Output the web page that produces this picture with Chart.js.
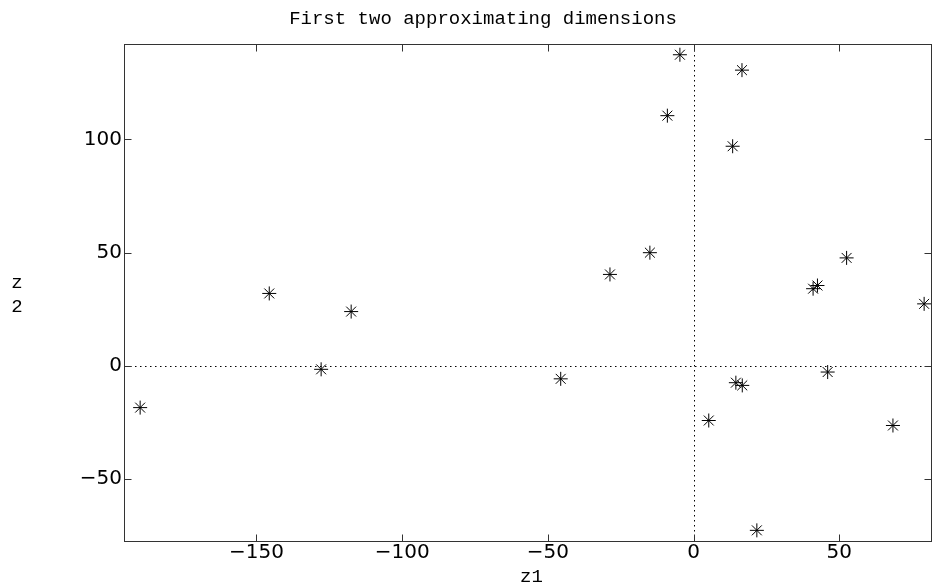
<!DOCTYPE html>
<html>
<head>
<meta charset="utf-8">
<script src="https://cdn.jsdelivr.net/npm/chart.js@4.4.1/dist/chart.umd.min.js"></script>
<style>
  html, body { margin: 0; padding: 0; background: #fff; overflow: hidden; }
  #wrap { width: 933px; height: 588px; }
  #chart { display: block; }
</style>
</head>
<body>
<div id="wrap"><canvas id="chart"></canvas></div>
<script>
// values
const z1 = [-189.9, -145.6, -127.8, -117.5, -45.6, -28.7, -15.0, -9.0, -4.7, 13.4, 16.6,
            5.2, 14.5, 16.7, 21.7, 41.0, 42.5, 46.0, 52.5, 68.4, 79.1];
const z2 = [-18.4, 32.0, -1.5, 24.0, -5.7, 40.4, 50.0, 110.5, 137.4, 97.0, 130.6,
            -24.1, -7.4, -8.6, -72.6, 34.1, 35.5, -2.7, 47.7, -26.3, 27.4];

const xTicks = [-150, -100, -50, 0, 50];
const yTicks = [-50, 0, 50, 100];

const titleText = 'First two approximating dimensions';
const xLabel = 'z1';
const yLabel = ['z', '2'];

const monoFont = '19px "Liberation Mono", "DejaVu Sans Mono", monospace';
const tickFont = { family: 'DejaVu Sans', size: 20 };

// matlab prints a real minus sign
const fmtTick = v => String(v).replace('-', '\u2212');

/* ---------- box, inward ticks, zero lines, labels ---------- */

const matlabAxes = {
  id: 'matlabAxes',
  beforeDatasetsDraw(chart) {
    const { ctx, chartArea: a, scales: { x, y } } = chart;
    const x0 = Math.round(x.getPixelForValue(0)) + 0.5;
    const y0 = Math.round(y.getPixelForValue(0)) + 0.5;
    ctx.save();
    ctx.strokeStyle = '#000';
    ctx.lineWidth = 1;
    ctx.setLineDash([1.5, 3.5]);
    ctx.beginPath();
    ctx.moveTo(a.left, y0);
    ctx.lineTo(a.right, y0);
    ctx.moveTo(x0, a.top);
    ctx.lineTo(x0, a.bottom);
    ctx.stroke();
    ctx.restore();
  },
  afterDatasetsDraw(chart) {
    const { ctx, chartArea: a, scales: { x, y } } = chart;
    const L = Math.round(a.left) - 0.5, R = Math.round(a.right) - 0.5;
    const T = Math.round(a.top) - 0.5, B = Math.round(a.bottom) + 0.5;
    const tl = 7;
    ctx.save();
    ctx.strokeStyle = '#333';
    ctx.lineWidth = 1;
    ctx.strokeRect(L, T, R - L, B - T);
    ctx.beginPath();
    xTicks.forEach(v => {
      const px = Math.round(x.getPixelForValue(v)) + 0.5;
      ctx.moveTo(px, B); ctx.lineTo(px, B - tl);
      ctx.moveTo(px, T); ctx.lineTo(px, T + tl);
    });
    yTicks.forEach(v => {
      const py = Math.round(y.getPixelForValue(v)) + 0.5;
      ctx.moveTo(L, py); ctx.lineTo(L + tl, py);
      ctx.moveTo(R, py); ctx.lineTo(R - tl, py);
    });
    ctx.stroke();
    ctx.restore();
  },
  afterDraw(chart) {
    const { ctx, chartArea: a } = chart;
    ctx.save();
    ctx.fillStyle = '#000';
    ctx.font = monoFont;
    ctx.textAlign = 'center';
    ctx.textBaseline = 'middle';
    ctx.fillText(titleText, 483, 19);
    ctx.fillText(xLabel, (a.left + a.right) / 2 + 3, 577);
    ctx.fillText(yLabel[0], 17, 283);
    ctx.fillText(yLabel[1], 17, 307);
    ctx.restore();
  }
};

/* ---------- chart ---------- */

new Chart(document.getElementById('chart'), {
  type: 'scatter',
  data: {
    datasets: [{
      data: z1.map((v, i) => ({ x: v, y: z2[i] })),
      pointStyle: 'star',
      pointRadius: 7,
      pointHoverRadius: 7,
      borderColor: '#000',
      backgroundColor: '#000',
      borderWidth: 1
    }]
  },
  options: {
    responsive: true,
    maintainAspectRatio: false,
    animation: false,
    layout: { autoPadding: false, padding: { top: 45, right: 1, left: 0, bottom: 0 } },
    plugins: {
      legend: { display: false },
      tooltip: { enabled: false }
    },
    scales: {
      x: {
        type: 'linear',
        min: -195.1,
        max: 81.8,
        grid: { display: false, drawTicks: false },
        border: { display: false },
        ticks: { font: tickFont, color: '#000', padding: 0, callback: fmtTick },
        afterBuildTicks: s => { s.ticks = xTicks.map(v => ({ value: v })); },
        afterFit: s => { s.height = 47; s.paddingLeft = 0; s.paddingRight = 0; }
      },
      y: {
        type: 'linear',
        min: -77.3,
        max: 141.7,
        grid: { display: false, drawTicks: false },
        border: { display: false },
        ticks: { font: tickFont, color: '#000', padding: 3, callback: fmtTick },
        afterBuildTicks: s => { s.ticks = yTicks.map(v => ({ value: v })); },
        afterFit: s => { s.width = 125; s.paddingTop = 0; s.paddingBottom = 0; }
      }
    }
  },
  plugins: [matlabAxes]
});
</script>
</body>
</html>
